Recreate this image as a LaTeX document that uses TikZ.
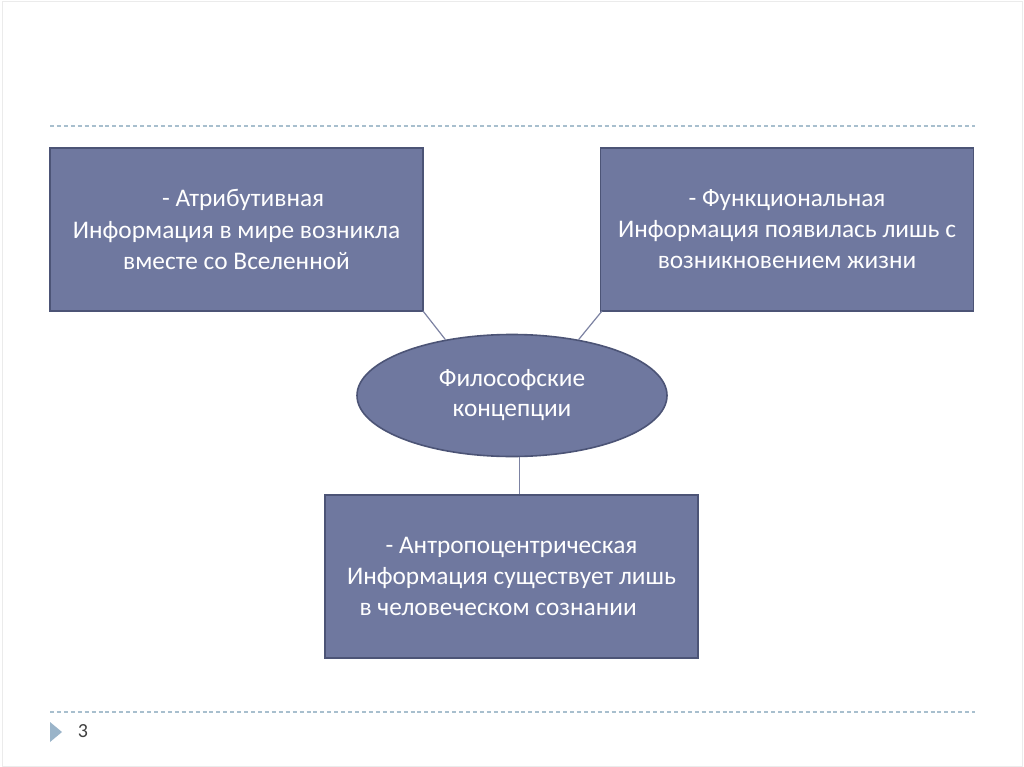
\documentclass[tikz,border=0pt]{standalone}
\usepackage{fontspec}
\setmainfont{Carlito}
\definecolor{boxfill}{HTML}{6F789F}
\definecolor{boxline}{HTML}{4C5476}
\definecolor{conn}{HTML}{7C82A2}
\definecolor{dash}{HTML}{A8BFCE}
\definecolor{tri}{HTML}{9AB4C9}
\definecolor{num}{HTML}{404040}
\tikzset{
  box/.style={draw=boxline, line width=1.2pt, fill=boxfill, text=white, align=center,
    minimum width=373*0.75pt, minimum height=163*0.75pt, inner sep=0pt,
    font=\fontsize{19}{23.3}\selectfont},
  oval/.style={ellipse, draw=boxline, line width=1.2pt, fill=boxfill, text=white, align=center,
    minimum width=310*0.75pt, minimum height=122*0.75pt, inner sep=0pt,
    font=\fontsize{19}{22.5}\selectfont},
  conn/.style={draw=conn, line width=0.9pt},
  sep/.style={draw=dash, line width=0.8pt, dash pattern=on 3pt off 2.2pt}
}
\usetikzlibrary{shapes.geometric}
\begin{document}
\begin{tikzpicture}[x=0.75pt,y=-0.75pt]
\useasboundingbox (0,0) rectangle (1024,767);
\fill[white] (0,0) rectangle (1024,767);
\draw[draw=black!8, line width=0.6pt] (2,1) rectangle (1022,766);
\coordinate (s1a) at (50,126); \coordinate (s1b) at (975,126);
\coordinate (s2a) at (50,712); \coordinate (s2b) at (975,712);
\draw[sep] (s1a) -- (s1b);
\draw[sep] (s2a) -- (s2b);
\node[box] (left) at (236.5,229.5) {\hspace*{10pt}- Атрибутивная\\Информация в мире возникла\\вместе со Вселенной};
\node[box] (right) at (787,229.5) {- Функциональная\\Информация появилась лишь с\\возникновением жизни};
\node[box] (bottom) at (511.5,576.5) {- Антропоцентрическая\\Информация существует лишь\\в человеческом сознании\hspace*{20pt}};
\node[oval] (mid) at (512,395.5) {Философские\\концепции};
\coordinate (lc) at (423,311); \coordinate (rc) at (602,311);
\draw[conn] (lc) -- (mid.140);
\draw[conn] (rc) -- (mid.40);
\draw[conn] (mid.south -| bottom.north) ++(8,0) -- ([xshift=6pt]bottom.north);
\fill[tri] (50,722) -- (62,732) -- (50,742) -- cycle;
\node[text=num, font=\fontsize{15}{17}\selectfont, anchor=center] (pg) at (83,731) {3};
\end{tikzpicture}
\end{document}
